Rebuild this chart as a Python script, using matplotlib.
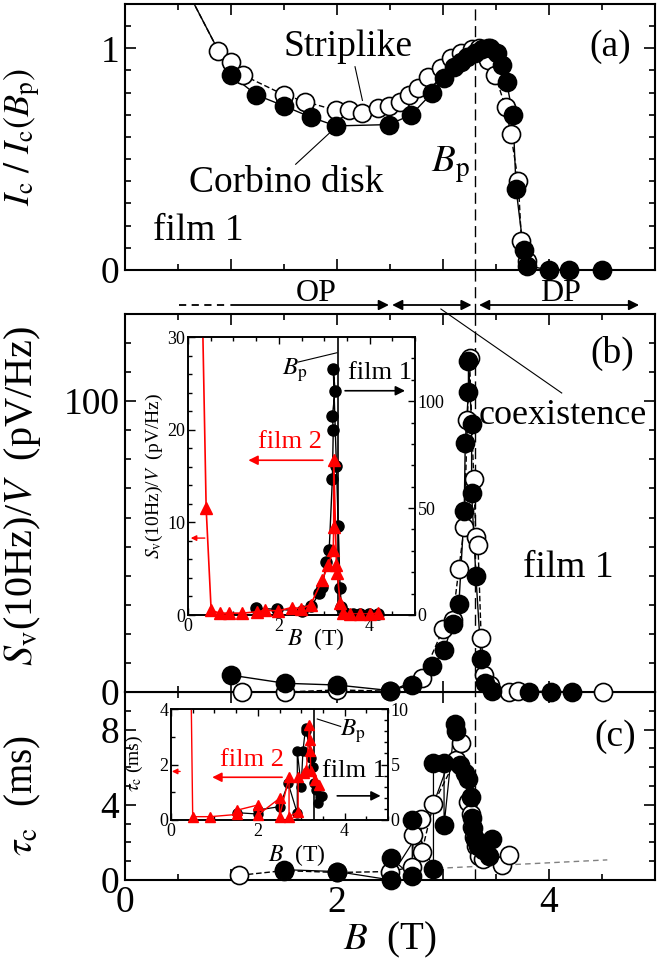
import numpy as np
import matplotlib
matplotlib.use("Agg")
import matplotlib.pyplot as plt
from matplotlib.ticker import MultipleLocator, FuncFormatter

plt.rcParams['font.family'] = 'serif'
plt.rcParams['font.serif'] = ['Liberation Serif', 'DejaVu Serif']
plt.rcParams['mathtext.fontset'] = 'stix'
plt.rcParams['axes.linewidth'] = 1.5

# ---------------- data ----------------
# (a) critical current, film 1
a_open_B = [0.49, 0.88, 1.00, 1.11, 1.50, 1.70, 1.99, 2.11, 2.24, 2.39, 2.49, 2.59, 2.68, 2.76,
            2.86, 2.98, 3.08, 3.17, 3.27, 3.34, 3.42, 3.42, 3.49, 3.59, 3.64, 3.71, 3.74, 3.79]
a_open_I = [1.35, 0.99, 0.94, 0.88, 0.79, 0.76, 0.72, 0.72, 0.71, 0.73, 0.74, 0.76, 0.79, 0.82,
            0.87, 0.91, 0.955, 0.977, 0.995, 1.0, 1.0, 0.947, 0.88, 0.735, 0.614, 0.40, 0.13, 0.04]
a_fill_B = [0.49, 1.00, 1.24, 1.50, 1.75, 1.99, 2.49, 2.70, 2.90, 3.01, 3.10, 3.17, 3.23, 3.30,
            3.37, 3.44, 3.51, 3.56, 3.60, 3.66, 3.69, 3.76, 3.79, 4.00, 4.19, 4.50]
a_fill_I = [1.35, 0.88, 0.79, 0.74, 0.69, 0.65, 0.656, 0.70, 0.80, 0.864, 0.917, 0.939, 0.962, 0.98,
            0.995, 1.0, 0.98, 0.924, 0.848, 0.697, 0.364, 0.09, 0.02, 0.0, 0.0, 0.0]

# (b) noise S_v(10Hz)/V, film 1
b_open_B = [1.10, 1.51, 2.00, 2.50, 2.80, 3.00, 3.09, 3.15, 3.20, 3.23, 3.25, 3.29, 3.31, 3.33,
            3.36, 3.39, 3.44, 3.62, 3.71, 4.51]
b_open_S = [0.0, 0.0, 0.7, 0.3, 4.8, 21.6, 24.7, 42.4, 56.8, 93.7, 114.8, 73.1, 53.4, 50.5,
            18.7, 6.0, 2.5, 0.0, 0.3, 0.0]
b_fill_B = [1.00, 1.51, 2.00, 2.50, 2.71, 2.90, 3.01, 3.09, 3.15, 3.20, 3.21, 3.24, 3.24, 3.27,
            3.27, 3.31, 3.36, 3.40, 3.46, 3.81, 4.02, 4.22]
b_fill_S = [5.8, 3.0, 2.4, 0.5, 2.5, 8.9, 14.4, 23.3, 30.3, 62.1, 85.8, 103.2, 113.8, 92.2,
            68.4, 40.0, 11.2, 3.1, 0.5, 0.0, 0.0, 0.0]

# (b) inset: film 2 (left axis) and film 1 (right axis)
ib_red_B = [0.29, 0.40, 0.51, 0.70, 0.90, 1.20, 1.52, 1.69, 1.99, 2.28, 2.49, 2.70, 2.96, 3.09,
            3.20, 3.21, 3.21, 3.27, 3.29, 3.35, 3.42, 3.57, 3.79, 4.00, 4.19]
ib_red_S = [40.0, 11.5, 0.5, 0.2, 0.2, 0.2, 0.35, 0.5, 0.45, 0.8, 0.7, 1.1, 3.8, 5.4,
            7.0, 9.5, 16.7, 5.4, 4.5, 1.3, 0.25, 0.1, 0.1, 0.1, 0.2]
ib_blk_B = [1.49, 1.96, 2.50, 2.72, 2.89, 2.96, 3.05, 3.11, 3.18, 3.20, 3.18, 3.24, 3.20, 3.27,
            3.31, 3.35, 3.38, 3.46, 3.64, 3.79, 3.99, 4.19]
ib_blk_S = [3.1, 2.7, 1.9, 4.2, 10.2, 13.3, 25.0, 30.5, 63.6, 86.7, 93.0, 104.7, 115.2, 69.5,
            41.4, 12.5, 3.9, 0.8, 0.5, 0.5, 0.5, 0.5]

# (c) correlation time, film 1
c_fill_B = [1.50, 2.00, 2.51, 2.51, 2.71, 2.71, 2.91, 2.91, 3.01, 3.01, 3.11, 3.12, 3.16, 3.21,
            3.24, 3.26, 3.27, 3.28, 3.30, 3.33, 3.38, 3.43, 3.46]
c_fill_t = [0.55, 0.45, 0.0, 1.15, 0.2, 3.2, 0.6, 6.25, 6.25, 2.9, 8.3, 7.9, 6.1, 5.7,
            5.35, 4.4, 3.3, 2.75, 2.2, 1.8, 1.6, 1.3, 2.2]
c_open_B = [1.08, 1.50, 2.00, 2.50, 2.71, 2.72, 2.79, 2.80, 2.91, 3.12, 3.17, 3.24, 3.26, 3.27,
            3.29, 3.31, 3.34, 3.38, 3.56, 3.62]
c_open_t = [0.25, 0.5, 0.4, 0.45, 0.7, 2.4, 3.25, 1.5, 4.05, 6.4, 7.3, 4.15, 3.5, 2.8,
            2.3, 1.8, 1.3, 1.1, 0.8, 1.35]
c_guide_B = [2.46, 2.60, 2.70, 2.92, 3.05]
c_guide_t = [0.44, 1.0, 1.88, 4.2, 6.2]
c_base_B = [2.95, 4.55]
c_base_t = [0.62, 1.07]

# (c) inset: film 2 (left axis) and film 1 (right axis)
ic_red_B = [0.46, 0.50, 0.91, 1.51, 1.51, 2.00, 2.00, 2.50, 2.50, 2.72, 2.72, 2.93, 2.93, 3.06,
            3.12, 3.19, 3.20, 3.21, 3.22, 3.31, 3.41]
ic_red_t = [5.0, 0.12, 0.12, 0.2, 0.35, 0.54, 0.18, 0.78, 0.12, 1.54, 0.12, 0.3, 1.54, 1.7,
            1.8, 3.43, 2.9, 2.5, 1.75, 1.45, 1.27]
ic_blk_B = [1.51, 2.00, 2.00, 2.50, 2.70, 2.91, 2.91, 3.00, 3.04, 3.10, 3.12, 3.23, 3.27, 3.30,
            3.33, 3.38, 3.43, 3.48]
ic_blk_t = [0.66, 0.54, 0.9, 1.2, 3.3, 0.6, 6.2, 3.0, 6.2, 8.3, 8.0, 5.6, 4.8, 3.3,
            2.7, 1.5, 2.1, 2.2]

B_peak = 3.3
RED = '#ff0000'

# ---------------- layout (pixels of a 668 x 967 canvas) ----------------
W, H = 668, 967
fig = plt.figure(figsize=(W / 100, H / 100), dpi=100)


def box(l, t, r, b):
    return [l / W, 1 - b / H, (r - l) / W, (b - t) / H]


ax_a = fig.add_axes(box(125, 4, 655, 270))
ax_c = fig.add_axes(box(125, 692, 655, 880))
ax_b = fig.add_axes(box(125, 314, 655, 692))
ax_c.set_zorder(1)
ax_b.set_zorder(2)
ax_a.set_zorder(2)


def series(ax, x, y, filled, ms, ls, top, color='k', marker='o', lw=1.0, mew=1.2):
    x = np.asarray(x)
    y = np.asarray(y)
    ax.plot(x, y, ls=ls, color=color, lw=lw, zorder=2)
    keep = y <= top
    ax.plot(x[keep], y[keep], ls='none', marker=marker, ms=ms,
            mfc=color if filled else 'white', mec=color, mew=mew,
            clip_on=False, zorder=3)


def main_ticks(ax):
    ax.set_xlim(0, 5)
    ax.xaxis.set_major_locator(MultipleLocator(1))
    ax.xaxis.set_minor_locator(MultipleLocator(0.5))
    ax.tick_params(which='both', direction='in', top=True, right=True, width=1.2)
    ax.tick_params(which='major', length=8, labelsize=27, pad=4)
    ax.tick_params(which='minor', length=4)
    ax.tick_params(axis='x', labelbottom=False)


dash = (0, (8, 4))
ylab_x = -0.155

# ---- (a)
main_ticks(ax_a)
ax_a.set_ylim(0, 1.2)
ax_a.yaxis.set_major_locator(MultipleLocator(1))
ax_a.yaxis.set_minor_locator(MultipleLocator(0.1))
ax_a.axvline(B_peak, color='k', lw=1.0, ls=dash, zorder=1)
series(ax_a, a_open_B, a_open_I, False, 13, (0, (4, 2)), 1.2)
series(ax_a, a_fill_B, a_fill_I, True, 13, '-', 1.2)
ax_a.set_ylabel(r'$I_{\rm c}\ /\ I_{\rm c}(B_{\rm p})$', fontsize=26)
ax_a.yaxis.set_label_coords(ylab_x, 0.5)
ax_a.text(2.10, 1.006, 'Striplike', fontsize=27, ha='center', va='center')
ax_a.plot([2.17, 2.24], [0.917, 0.765], color='k', lw=0.8)
ax_a.text(1.52, 0.393, 'Corbino disk', fontsize=27, ha='center', va='center')
ax_a.plot([1.61, 1.97], [0.477, 0.636], color='k', lw=0.8)
ax_a.text(0.69, 0.177, 'film 1', fontsize=27, ha='center', va='center')
ax_a.text(3.07, 0.477, r'$B_{\rm p}$', fontsize=28, ha='center', va='center')
ax_a.text(4.58, 1.006, '(a)', fontsize=27, ha='center', va='center')

# ---- (b)
main_ticks(ax_b)
ax_b.set_ylim(0, 130)
ax_b.yaxis.set_major_locator(MultipleLocator(100))
ax_b.yaxis.set_minor_locator(MultipleLocator(10))
ax_b.axvline(B_peak, color='k', lw=1.0, ls=dash, zorder=1)
series(ax_b, b_open_B, b_open_S, False, 13, (0, (4, 2)), 130)
series(ax_b, b_fill_B, b_fill_S, True, 13, '-', 130)
ax_b.set_ylabel(r'$S_{\rm v}$(10Hz)/$V$  (pV/Hz)', fontsize=29)
ax_b.yaxis.set_label_coords(ylab_x, 0.52)
ax_b.text(4.60, 116.6, '(b)', fontsize=27, ha='center', va='center')
ax_b.text(4.18, 42.9, 'film 1', fontsize=27, ha='center', va='center')

# ---- (c)
main_ticks(ax_c)
ax_c.set_ylim(0, 10)
ax_c.yaxis.set_major_locator(MultipleLocator(4))
ax_c.yaxis.set_minor_locator(MultipleLocator(1))
ax_c.tick_params(axis='x', labelbottom=True)
ax_c.xaxis.set_major_formatter(FuncFormatter(lambda v, p: f'{v:.0f}' if round(v) % 2 == 0 else ''))
ax_c.axvline(B_peak, color='k', lw=1.0, ls=dash, zorder=1)
ax_c.plot(c_base_B, c_base_t, color='0.5', lw=1.0, ls=(0, (4, 3)), zorder=1)
ax_c.plot(c_guide_B, c_guide_t, color='k', lw=0.9, zorder=1)
series(ax_c, c_open_B, c_open_t, False, 13, (0, (4, 2)), 10)
series(ax_c, c_fill_B, c_fill_t, True, 13, '-', 10, lw=0.9)
ax_c.set_ylabel(r'$\tau_{\rm c}$  (ms)', fontsize=28)
ax_c.yaxis.set_label_coords(ylab_x, 0.45)
ax_c.set_xlabel(r'$B$  (T)', fontsize=28, labelpad=0)
ax_c.text(4.62, 7.6, '(c)', fontsize=27, ha='center', va='center')


# ---- insets
def inset(rect, z, ylim_l, ylim_r, maj_l, min_l, maj_r, min_r, fs):
    axl = fig.add_axes(rect)
    axr = axl.twinx()
    axr.set_zorder(z)
    axl.set_zorder(z + 0.1)
    axl.patch.set_visible(False)
    axr.patch.set_visible(True)
    axr.patch.set_facecolor('white')
    axl.set_xlim(0, 5)
    axl.set_ylim(*ylim_l)
    axr.set_ylim(*ylim_r)
    axl.xaxis.set_major_locator(MultipleLocator(2))
    axl.xaxis.set_minor_locator(MultipleLocator(0.5))
    axl.yaxis.set_major_locator(MultipleLocator(maj_l))
    axl.yaxis.set_minor_locator(MultipleLocator(min_l))
    axr.yaxis.set_major_locator(MultipleLocator(maj_r))
    axr.yaxis.set_minor_locator(MultipleLocator(min_r))
    axl.tick_params(which='both', direction='in', top=True, right=False, width=1.0, labelsize=fs, pad=2)
    axr.tick_params(which='both', direction='in', width=1.0, labelsize=fs, pad=2)
    for a in (axl, axr):
        a.tick_params(which='major', length=5)
        a.tick_params(which='minor', length=3)
        for s in a.spines.values():
            s.set_linewidth(1.2)
    return axl, axr


ib_l, ib_r = inset(box(188, 337, 415, 615), 5, (0, 30), (0, 130), 10, 2, 50, 10, 13)
ib_r.axvline(B_peak, color='k', lw=1.2, zorder=1)
series(ib_r, ib_blk_B, ib_blk_S, True, 8, '-', 130, lw=1.0, mew=1.0)
series(ib_l, ib_red_B, ib_red_S, True, 8, '-', 30, color=RED, marker='^', lw=1.2, mew=1.0)
ib_l.set_ylabel(r'$S_{\rm v}$(10Hz)/$V$  (pV/Hz)', fontsize=14)
ib_l.yaxis.set_label_coords(-0.10, 0.5)
ib_l.set_xlabel(r'$B$  (T)', fontsize=17)
ib_l.xaxis.set_label_coords(0.565, -0.04)
ib_l.text(2.36, 26.4, r'$B_{\rm p}$', fontsize=18, ha='center', va='center')
ib_l.plot([2.43, 3.28], [27.3, 28.3], color='k', lw=0.8)
ib_l.text(4.23, 26.1, 'film 1', fontsize=19, ha='center', va='center')
ib_l.annotate('', xy=(4.78, 24.2), xytext=(3.46, 24.2),
              arrowprops=dict(arrowstyle='-|>', color='k', lw=1.2, mutation_scale=14, shrinkA=0, shrinkB=0))
ib_l.text(2.25, 18.7, 'film 2', fontsize=19, color=RED, ha='center', va='center')
ib_l.annotate('', xy=(1.33, 16.7), xytext=(2.97, 16.7),
              arrowprops=dict(arrowstyle='-|>', color=RED, lw=1.2, mutation_scale=14, shrinkA=0, shrinkB=0))
ib_l.annotate('', xy=(0.06, 8.3), xytext=(0.37, 8.3),
              arrowprops=dict(arrowstyle='-|>', color=RED, lw=1.0, mutation_scale=8, shrinkA=0, shrinkB=0))

ic_l, ic_r = inset(box(171, 709, 388, 820), 5, (0, 4), (0, 10), 2, 1, 5, 1, 13)
ic_r.axvline(B_peak, color='k', lw=1.2, zorder=1)
series(ic_r, ic_blk_B, ic_blk_t, True, 6.5, '-', 10, lw=0.9, mew=1.0)
series(ic_l, ic_red_B, ic_red_t, True, 7, '-', 4, color=RED, marker='^', lw=1.0, mew=1.0)
ic_l.set_ylabel(r'$\tau_{\rm c}$ (ms)', fontsize=14)
ic_l.yaxis.set_label_coords(-0.12, 0.51)
ic_l.set_xlabel(r'$B$  (T)', fontsize=17)
ic_l.xaxis.set_label_coords(0.58, -0.2)
ic_l.text(4.18, 3.19, r'$B_{\rm p}$', fontsize=18, ha='center', va='center')
ic_l.plot([3.37, 3.91], [3.64, 3.37], color='k', lw=0.8)
ic_l.text(4.22, 1.75, 'film 1', fontsize=19, ha='center', va='center')
ic_l.annotate('', xy=(4.83, 0.87), xytext=(3.83, 0.87),
              arrowprops=dict(arrowstyle='-|>', color='k', lw=1.2, mutation_scale=14, shrinkA=0, shrinkB=0))
ic_l.text(1.87, 2.17, 'film 2', fontsize=19, color=RED, ha='center', va='center')
ic_l.annotate('', xy=(0.95, 1.54), xytext=(2.56, 1.54),
              arrowprops=dict(arrowstyle='-|>', color=RED, lw=1.2, mutation_scale=14, shrinkA=0, shrinkB=0))
ic_l.annotate('', xy=(0.02, 1.75), xytext=(0.21, 1.75),
              arrowprops=dict(arrowstyle='-|>', color=RED, lw=1.0, mutation_scale=8, shrinkA=0, shrinkB=0))

# ---- overlay for phase arrows / labels between panels (y in pixels from top)
ov = fig.add_axes([125 / W, 0, 530 / W, 1])
ov.set_xlim(0, 5)
ov.set_ylim(H, 0)
ov.axis('off')
ov.set_zorder(10)
y_arr = 305
ov.plot([B_peak, B_peak], [270, 314], color='k', lw=1.0, ls=dash)
ov.plot([0.51, 0.94], [y_arr, y_arr], color='k', lw=1.3, ls=(0, (4, 3)))
ov.annotate('', xy=(2.49, y_arr), xytext=(1.0, y_arr),
            arrowprops=dict(arrowstyle='-|>', color='k', lw=1.3, mutation_scale=15, shrinkA=0, shrinkB=0))
ov.annotate('', xy=(3.27, y_arr), xytext=(2.52, y_arr),
            arrowprops=dict(arrowstyle='<|-|>', color='k', lw=1.3, mutation_scale=15, shrinkA=0, shrinkB=0))
ov.annotate('', xy=(4.85, y_arr), xytext=(3.34, y_arr),
            arrowprops=dict(arrowstyle='<|-|>', color='k', lw=1.3, mutation_scale=15, shrinkA=0, shrinkB=0))
ov.text(1.80, 301, 'OP', fontsize=23, ha='center', va='baseline')
ov.text(4.11, 301, 'DP', fontsize=23, ha='center', va='baseline')
ov.plot([2.98, 4.12], [309, 393], color='k', lw=0.8)
ov.text(4.13, 415, 'coexistence', fontsize=26, ha='center', va='center')

fig.savefig('out.png', dpi=100)
